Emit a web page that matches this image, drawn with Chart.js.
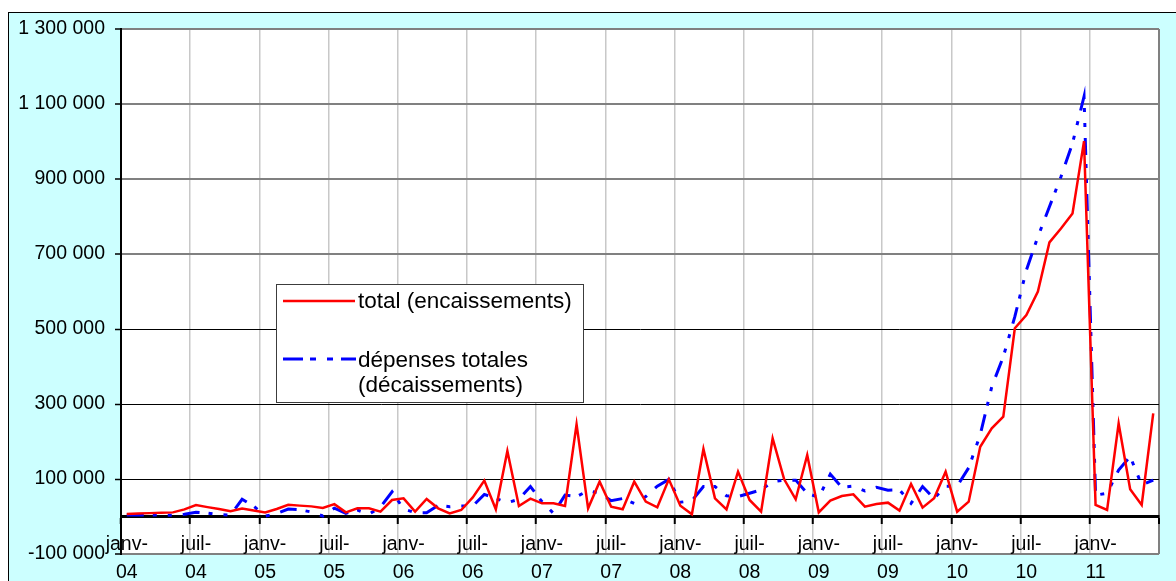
<!DOCTYPE html>
<html lang="fr">
<head>
<meta charset="utf-8">
<title>Encaissements et décaissements mensuels</title>
<script src="https://cdn.jsdelivr.net/npm/chart.js@4.4.1/dist/chart.umd.min.js"></script>
<style>
  html, body { margin: 0; padding: 0; background: #fff; width: 1176px; height: 581px; overflow: hidden; }
  #cadre { position: absolute; left: 8px; top: 12px; right: 0; bottom: 0;
           background: #CCFFFF; border-left: 1px solid #000; border-top: 1px solid #000; }
  #graphique { position: absolute; left: 0; top: 0; }
</style>
</head>
<body>
<div id="cadre"></div>
<canvas id="graphique" width="1176" height="581"></canvas>
<script>
// Mois de janvier 2004 à juin 2011
const MOIS = ['janv', 'févr', 'mars', 'avr', 'mai', 'juin', 'juil', 'août', 'sept', 'oct', 'nov', 'déc'];
const ANNEES = ['04', '05', '06', '07', '08', '09', '10', '11'];
const NB_MOIS = 90;
const categories = [];
for (let i = 0; i < NB_MOIS; i++) {
  categories.push(MOIS[i % 12] + '-' + ANNEES[Math.floor(i / 12)]);
}

// Mois dont le libellé est affiché sur l'axe
const MOIS_AFFICHES = ['janv', 'juil'];

// Graduations de l'axe des valeurs
const Y_MIN = -100000;
const Y_MAX = 1300000;
const Y_PAS = 200000;

// total (encaissements)
const encaissements = [
  6700, 8000, 9000, 10000, 11000, 19000, 30700, 25000, 20000, 14000,
  21000, 16000, 11000, 20000, 31000, 29000, 27000, 23000, 33000, 11000,
  22000, 22000, 13000, 44000, 48500, 12900, 46700, 21800, 8400, 17300,
  51000, 95600, 19100, 174700, 28000, 47500, 35100, 35100, 28000, 245800,
  21800, 92900, 26200, 19100, 92900, 39600, 24400, 99100, 28900, 5800,
  180000, 48500, 19100, 119600, 44000, 12900, 208500, 99100, 45800, 164000,
  11100, 42200, 54700, 59100, 26200, 33300, 36900, 15600, 86700, 23600,
  48500, 119600, 12900, 39600, 186000, 235000, 266000, 502000, 537000, 600000,
  731000, 768000, 808000, 1001000, 30700, 17300, 248000, 72500, 30700, 275000
];

// dépenses totales (décaissements)
const decaissements = [
  4000, 4000, 4000, 3500, 3500, 5800, 11000, 9000, 5000, 4000,
  46000, 28000, 1000, 8000, 20000, 18000, 12000, 1300, 22000, 8500,
  17000, 6000, 25000, 66000, 20000, 10000, 10000, 30000, 26000, 28000,
  28000, 59000, 48000, 37000, 46000, 80000, 39600, 8400, 57000, 53000,
  69000, 62000, 42000, 48000, 35000, 53000, 81000, 99000, 38000, 42000,
  80000, 80000, 55000, 53000, 62000, 71000, 93000, 97000, 97000, 62000,
  51000, 113000, 78000, 81000, 68000, 78000, 70000, 71000, 35000, 80000,
  48000, 81000, 81000, 130000, 218000, 346000, 426000, 533000, 657000, 746000,
  826000, 906000, 995000, 1120000, 57000, 62000, 124000, 160000, 84000, 97000
];

const LIBELLES = ['total (encaissements)', ['dépenses totales', '(décaissements)']];

const POLICE = '"Liberation Sans", Arial, sans-serif';
const TIRETS = [17, 9, 4, 11, 4, 11];

// Nombre avec espace comme séparateur de milliers
function formatNombre(v) {
  const s = Math.abs(v).toString().replace(/\B(?=(\d{3})+(?!\d))/g, ' ');
  return (v < 0 ? '-' : '') + s;
}

// Fond blanc de la zone de tracé
const fondZone = {
  id: 'fondZone',
  beforeDraw(chart) {
    const { ctx, chartArea: a } = chart;
    ctx.save();
    ctx.fillStyle = '#ffffff';
    ctx.fillRect(a.left, a.top, a.right - a.left, a.bottom - a.top);
    ctx.restore();
  }
};

// Légende encadrée posée dans la zone de tracé
const legendeCadre = {
  id: 'legendeCadre',
  afterDraw(chart) {
    const ctx = chart.ctx;
    const ds = chart.data.datasets;
    ctx.save();
    ctx.fillStyle = '#ffffff';
    ctx.fillRect(276, 284, 307, 118);
    ctx.strokeStyle = '#3c3c3c';
    ctx.lineWidth = 1;
    ctx.strokeRect(276.5, 284.5, 307, 118);

    ctx.lineCap = 'butt';
    ctx.strokeStyle = ds[0].borderColor;
    ctx.lineWidth = ds[0].borderWidth;
    ctx.setLineDash([]);
    ctx.beginPath(); ctx.moveTo(283, 301); ctx.lineTo(355, 301); ctx.stroke();

    ctx.strokeStyle = ds[1].borderColor;
    ctx.lineWidth = ds[1].borderWidth;
    ctx.setLineDash([20, 7, 6, 11, 6, 8]);
    ctx.beginPath(); ctx.moveTo(283, 359); ctx.lineTo(356, 359); ctx.stroke();
    ctx.setLineDash([]);

    ctx.fillStyle = '#000000';
    ctx.font = '22.5px ' + POLICE;
    ctx.textAlign = 'left';
    ctx.textBaseline = 'middle';
    ctx.fillText(LIBELLES[0], 358, 302);
    ctx.fillText(LIBELLES[1][0], 358, 361);
    ctx.fillText(LIBELLES[1][1], 358, 386);
    ctx.restore();
  }
};

new Chart(document.getElementById('graphique'), {
  type: 'line',
  data: {
    labels: categories,
    datasets: [
      {
        label: 'total (encaissements)',
        data: encaissements,
        borderColor: '#ff0000',
        borderWidth: 2.5,
        pointRadius: 0,
        tension: 0,
        fill: false
      },
      {
        label: 'dépenses totales (décaissements)',
        data: decaissements,
        borderColor: '#0000ff',
        borderWidth: 3,
        borderDash: TIRETS,
        pointRadius: 0,
        tension: 0,
        fill: false
      }
    ]
  },
  options: {
    responsive: false,
    animation: false,
    devicePixelRatio: 1,
    layout: { padding: { top: 29, right: 17, bottom: 27, left: 0 } },
    plugins: { legend: { display: false }, tooltip: { enabled: false } },
    scales: {
      x: {
        type: 'category',
        position: { y: 0 },
        offset: true,
        grid: {
          offset: true,
          drawTicks: true,
          tickLength: 6,
          tickWidth: 2,
          color: (c) => c.index === undefined ? '#808080' : (c.index % 6 === 0 ? '#c8c8c8' : 'rgba(0,0,0,0)'),
          lineWidth: (c) => c.index === undefined ? 2 : 1.5,
          tickColor: (c) => (c.index === undefined || c.index % 6 === 0) ? '#000000' : 'rgba(0,0,0,0)'
        },
        border: { color: '#000000', width: 3 },
        ticks: {
          autoSkip: false,
          maxRotation: 0,
          minRotation: 0,
          padding: 8,
          color: '#000000',
          font: { family: POLICE, size: 19.5, lineHeight: 1.45 },
          callback: (val, index) => {
            const [m, a] = categories[index].split('-');
            return MOIS_AFFICHES.includes(m) ? [m + '-', a] : '';
          }
        }
      },
      y: {
        min: Y_MIN,
        max: Y_MAX,
        afterFit: (s) => { s.width = 121; },
        grid: {
          color: (c) => (c.tick.value <= Y_MIN || c.tick.value >= 700000) ? '#808080' : '#000000',
          lineWidth: (c) => (c.tick.value <= Y_MIN || c.tick.value >= 700000) ? 2 : 1,
          tickColor: '#000000',
          tickLength: 6,
          tickWidth: 1.5
        },
        border: { color: '#000000', width: 2 },
        ticks: {
          stepSize: Y_PAS,
          padding: 10,
          color: '#000000',
          font: { family: POLICE, size: 19.5 },
          callback: (v) => formatNombre(v)
        }
      }
    }
  },
  plugins: [fondZone, legendeCadre]
});
</script>
</body>
</html>
